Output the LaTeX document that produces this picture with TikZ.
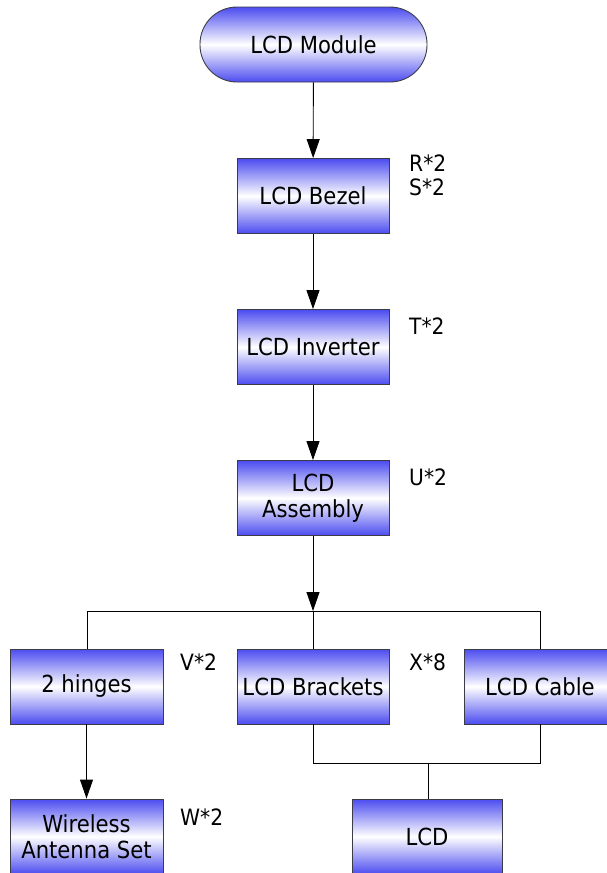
\documentclass[tikz,border=0pt]{standalone}
\usepackage{fontspec}
\setmainfont{DejaVu Sans Condensed}
\usetikzlibrary{arrows.meta}
\definecolor{boxblue}{RGB}{76,76,240}
\definecolor{boxline}{RGB}{60,60,70}
\tikzset{
  partbox/.style={draw=boxline, line width=0.9pt, top color=boxblue, bottom color=boxblue, middle color=white,
    minimum width=152pt, minimum height=75pt, inner sep=2pt, align=center, font=\fontsize{23.5}{26}\selectfont},
  startbox/.style={partbox, minimum width=227pt, rounded corners=37pt},
  conn/.style={draw=black, line width=0.9pt},
  arr/.style={conn, -{Triangle[length=19pt,width=13pt]}},
  qty/.style={anchor=north west, inner sep=0pt, align=left, font=\fontsize{22.5}{24}\selectfont}
}
\begin{document}
\begin{tikzpicture}[x=1pt,y=-1pt]
\useasboundingbox (0,0) rectangle (606,873);
\node[startbox] (mod) at (313.5,44.5) {LCD Module};
\node[partbox] (bez) at (313,196) {LCD Bezel};
\node[partbox] (inv) at (313,347) {LCD Inverter};
\node[partbox] (asm) at (313,498) {LCD\\Assembly};
\node[partbox, minimum width=153pt] (hin) at (86.5,686.5) {2 hinges};
\node[partbox] (brk) at (313,686.5) {LCD Brackets};
\node[partbox] (cab) at (540,686.5) {LCD Cable};
\node[partbox, minimum width=153pt] (wir) at (86.5,836.5) {Wireless\\Antenna Set};
\node[partbox, minimum width=150pt] (lcd) at (427,836.5) {LCD};

\node[qty] (qr) at (409,155) {R*2\\S*2};
\node[qty] (qt) at (409,318) {T*2};
\node[qty] (qu) at (409,469) {U*2};
\node[qty] (qv) at (180,654) {V*2};
\node[qty] (qx) at (409,654) {X*8};
\node[qty] (qw) at (180,809) {W*2};

\coordinate (split) at (313,611);
\coordinate (hl) at (87,611);
\coordinate (hr) at (540,611);
\coordinate (bl) at (313,763);
\coordinate (br) at (540,763);
\coordinate (bm) at (428,763);

\draw[arr] (mod) -- (bez);
\draw[arr] (bez) -- (inv);
\draw[arr] (inv) -- (asm);
\draw[arr] (asm) -- (split);
\draw[conn] (hl) -- (hr);
\draw[conn] (hl) -- (hin.north -| hl);
\draw[conn] (split) -- (brk);
\draw[conn] (hr) -- (cab);
\draw[arr] (hin) -- (wir);
\draw[conn] (brk) -- (bl) -- (br) -- (cab);
\draw[conn] (bm) -- (lcd.north -| bm);
\end{tikzpicture}
\end{document}
